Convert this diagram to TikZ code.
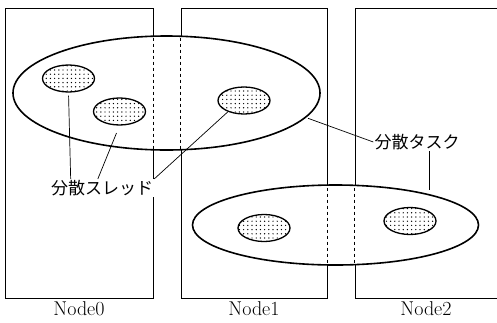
\documentclass[tikz,border=0pt]{standalone}
\usepackage{fontspec}
\newfontfamily\jp{Noto Sans CJK JP}
\usetikzlibrary{shapes.geometric, patterns.meta, positioning, calc}

\tikzset{
  hostbox/.style={draw, line width=0.6pt, minimum width=#1, minimum height=290, inner sep=0pt},
  task/.style={ellipse, draw, line width=1.6pt, fill=white, inner sep=0pt},
  thread/.style={ellipse, draw, line width=1.3pt, minimum width=52, minimum height=27, inner sep=0pt,
    preaction={fill=white}, pattern={Dots[distance=4.2pt, radius=0.7pt]}},
  hostlbl/.style={font=\fontsize{20}{20}\selectfont, inner sep=1pt},
  jplbl/.style={font=\jp\fontsize{17}{17}\selectfont, fill=white, inner sep=1pt},
  link/.style={line width=0.7pt},
}

\begin{document}
\begin{tikzpicture}[x=1pt, y=-1pt]
  \useasboundingbox (0,0) rectangle (497,322);
  \clip (0,0) rectangle (497,322);

  % nodes (hosts)
  \node[hostbox=148] (node0) at (79,153) {};
  \node[hostbox=146] (node1) at (254,153) {};
  \node[hostbox=152] (node2) at (431,153) {};
  \node[hostlbl, below=2pt of node0] {Node0};
  \node[hostlbl, below=2pt of node1] {Node1};
  \node[hostlbl, anchor=north] at ($(node2.south)+(-5,2)$) {Node2};

  % distributed tasks, host borders dashed inside
  \node[task, minimum width=307, minimum height=114,
        path picture={\draw[dashed, line width=0.6pt] (node0.north east) -- (node0.south east)
                                                     (node1.north west) -- (node1.south west);}]
        (task1) at (166.5,93) {};
  \node[task, minimum width=286, minimum height=80,
        path picture={\draw[dashed, line width=0.6pt] (node1.north east) -- (node1.south east)
                                                     (node2.north west) -- (node2.south west);}]
        (task2) at (335.5,225) {};

  % distributed threads
  \node[thread] (t1) at (68.5,78.5) {};
  \node[thread] (t2) at (119.5,111.5) {};
  \node[thread] (t3) at (244,100.5) {};
  \node[thread] (t4) at (264,228) {};
  \node[thread] (t5) at (410,221) {};

  % labels
  \node[jplbl] (thrlbl) at (102,188) {分散スレッド};
  \node[jplbl] (tasklbl) at (417,142) {分散タスク};
  \coordinate (tasktick) at ($(tasklbl.south)+(12,0)$);

  \draw[link, shorten <=3pt] (t1.south) -- ($(thrlbl.north west)!0.2!(thrlbl.north east)$);
  \draw[link, shorten <=8pt] (t2.south) -- ($(thrlbl.north west)!0.46!(thrlbl.north east)$);
  \draw[link] (t3.-145) -- (thrlbl.north east);
  \draw[link, shorten <=2pt] (task1.-10) -- (tasklbl.west);
  \draw[link] (tasktick) -- ($(tasktick |- task2.north)+(0,6)$);
\end{tikzpicture}
\end{document}
